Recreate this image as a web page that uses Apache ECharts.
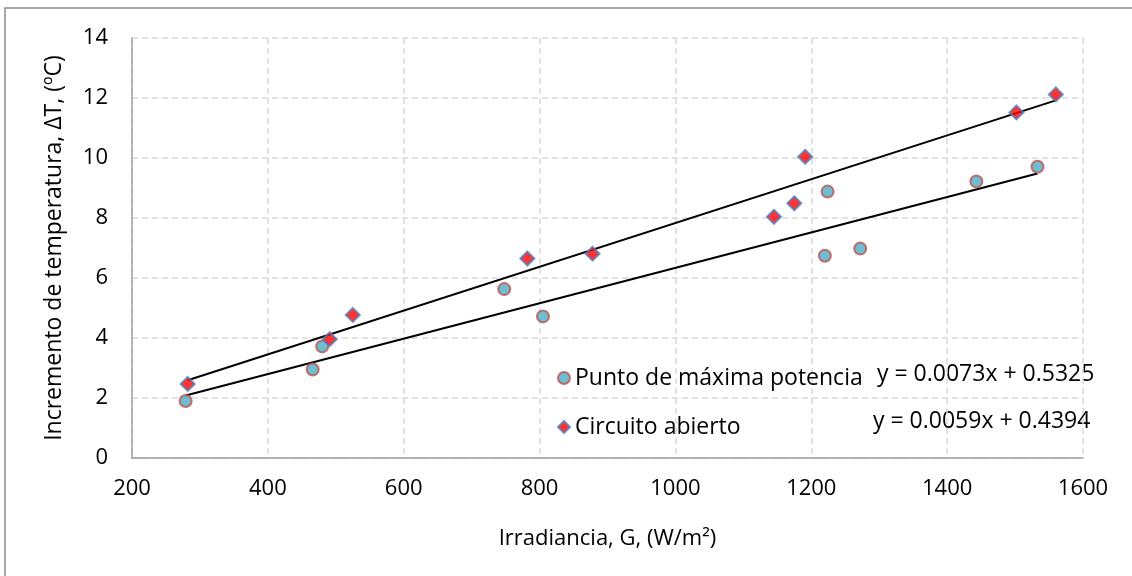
<!DOCTYPE html>
<html>
<head>
<meta charset="utf-8">
<script src="https://cdn.jsdelivr.net/npm/echarts@6/dist/echarts.min.js"></script>
<style>
	html, body { margin: 0; padding: 0; background: #fff; }
	#chart { width: 1132px; height: 576px; }
</style>
</head>
<body>
<div id="chart"></div>
<script>
// Punto de máxima potencia
let mpp_x = [279, 466, 480, 748, 805, 1220, 1224, 1272, 1443, 1533];
let mpp_y = [1.90, 2.95, 3.72, 5.63, 4.72, 6.74, 8.88, 6.98, 9.22, 9.71];
// Circuito abierto
let oc_x = [282, 491, 525, 782, 878, 1145, 1175, 1191, 1502, 1560];
let oc_y = [2.47, 3.96, 4.77, 6.65, 6.81, 8.04, 8.49, 10.04, 11.52, 12.12];
// lineas de tendencia [pendiente, ordenada]
let mpp_fit = [0.0059, 0.4394];
let oc_fit = [0.0073, 0.5325];
let x_ticks = [200, 400, 600, 800, 1000, 1200, 1400, 1600];
let y_ticks = [0, 2, 4, 6, 8, 10, 12, 14];

let font = '"Open Sans", sans-serif';

function pairs(xs, ys) {
	return xs.map((x, i) => [x, ys[i]]);
}
// recta entre el primer y el ultimo punto de la serie
function trend(xs, fit) {
	let lo = Math.min(...xs), hi = Math.max(...xs);
	return [[lo, fit[0] * lo + fit[1]], [hi, fit[0] * hi + fit[1]]];
}

let chart = echarts.init(document.getElementById('chart'));
let option = {
	animation: false,
	backgroundColor: '#fff',
	grid: { left: 132, top: 38, right: 49, bottom: 118, show: false },
	xAxis: {
		type: 'value',
		min: x_ticks[0],
		max: x_ticks[x_ticks.length - 1],
		interval: 200,
		name: 'Irradiancia, G, (W/m²)',
		nameLocation: 'middle',
		nameGap: 70,
		nameTextStyle: { fontFamily: font, fontSize: 22, color: '#000' },
		axisLine: { show: true, lineStyle: { color: '#a0a0a0', width: 1.5 } },
		axisTick: { show: false },
		axisLabel: { fontFamily: font, fontSize: 22, color: '#000', margin: 20, formatter: (v) => String(v) },
		splitLine: { show: true, lineStyle: { color: '#d9d9d9', type: [6, 4], width: 1.5 } },
	},
	yAxis: {
		type: 'value',
		min: y_ticks[0],
		max: y_ticks[y_ticks.length - 1],
		interval: 2,
		name: 'Incremento de temperatura, ΔT, (ºC)',
		nameLocation: 'middle',
		nameGap: 66,
		nameTextStyle: { fontFamily: font, fontSize: 23, color: '#000' },
		axisLine: { show: true, lineStyle: { color: '#a0a0a0', width: 1.5 } },
		axisTick: { show: false },
		axisLabel: { fontFamily: font, fontSize: 22, color: '#000', margin: 24 },
		splitLine: { show: true, lineStyle: { color: '#d9d9d9', type: [6, 4], width: 1.5 } },
	},
	legend: {
		data: ['Punto de máxima potencia', 'Circuito abierto'],
		orient: 'vertical',
		left: 557,
		top: 365,
		padding: 0,
		itemWidth: 12,
		itemHeight: 12,
		itemGap: 23,
		textStyle: { fontFamily: font, fontSize: 23, color: '#000', lineHeight: 26 },
	},
	graphic: [
		{
			type: 'rect',
			shape: { x: 5, y: 8, width: 1200, height: 700 },
			style: { fill: 'none', stroke: '#8c8c8c', lineWidth: 1.5 },
			silent: true,
		},
		{
			type: 'text',
			left: 877,
			top: 363,
			style: { text: 'y = 0.0073x + 0.5325', font: '23px ' + font, fill: '#000' },
		},
		{
			type: 'text',
			left: 873,
			top: 410,
			style: { text: 'y = 0.0059x + 0.4394', font: '23px ' + font, fill: '#000' },
		},
	],
	series: [
		{
			name: 'tendencia mpp',
			type: 'line',
			data: trend(mpp_x, mpp_fit),
			symbol: 'none',
			lineStyle: { color: '#000', width: 2 },
			z: 2,
		},
		{
			name: 'tendencia oc',
			type: 'line',
			data: trend(oc_x, oc_fit),
			symbol: 'none',
			lineStyle: { color: '#000', width: 2 },
			z: 2,
		},
		{
			name: 'Punto de máxima potencia',
			type: 'scatter',
			data: pairs(mpp_x, mpp_y),
			symbol: 'circle',
			symbolSize: 12,
			itemStyle: { color: '#4bacc6', borderColor: '#c0504d', borderWidth: 2 },
			z: 3,
		},
		{
			name: 'Circuito abierto',
			type: 'scatter',
			data: pairs(oc_x, oc_y),
			symbol: 'diamond',
			symbolSize: 14,
			itemStyle: { color: '#ff0000', borderColor: '#4f81bd', borderWidth: 2 },
			z: 3,
		},
	],
};
chart.setOption(option);
</script>
</body>
</html>
